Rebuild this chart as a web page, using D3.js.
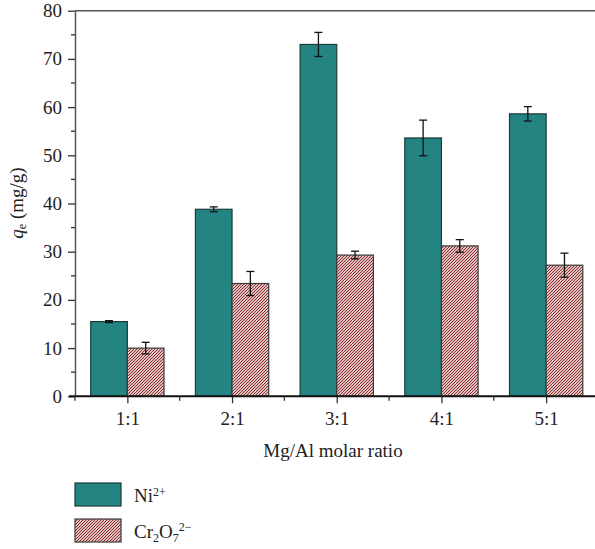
<!DOCTYPE html>
<html><head><meta charset="utf-8">
<script src="https://cdn.jsdelivr.net/npm/d3@7"></script>
<style>body{margin:0;background:#fff}svg{display:block}svg text{font-family:"Liberation Serif","Times New Roman","DejaVu Serif",serif !important;fill:#222}</style>
</head><body><svg id="c" width="595" height="549"></svg>
<script>
const categories = ["1:1","2:1","3:1","4:1","5:1"];
const niValues = [15.5, 38.8, 73.0, 53.6, 58.6];
const niErrors = [0.2, 0.5, 2.5, 3.7, 1.5];
const crValues = [10.0, 23.4, 29.3, 31.2, 27.2];
const crErrors = [1.2, 2.5, 0.8, 1.3, 2.5];
const yTicks = [0,10,20,30,40,50,60,70,80];

const svg = d3.select("#c");
const defs = svg.append("defs");
const P = 3;
const pat = defs.append("pattern").attr("id","hatch").attr("patternUnits","userSpaceOnUse")
  .attr("width",P).attr("height",P);
pat.append("rect").attr("width",P).attr("height",P).attr("fill","#fff");
pat.append("path").attr("d",`M0,${P} L${P},0 M${-P/2},${P/2} L${P/2},${-P/2} M${P/2},${1.5*P} L${1.5*P},${P/2}`)
  .attr("stroke","#8b2424").attr("stroke-width",1.1);

const x = d3.scaleLinear().domain([0.5,5.5]).range([75,598.5]);
const y = d3.scaleLinear().domain([0,80]).range([396.3,10.7]);
const bw = 0.35;
const FS = 19;

svg.append("line").attr("x1",75).attr("x2",595).attr("y1",y(80)).attr("y2",y(80)).attr("stroke","#555").attr("stroke-width",1.5);

const series = [
  {vals:niValues, errs:niErrors, off:-bw, fill:"#238481", stroke:"#1c3b39"},
  {vals:crValues, errs:crErrors, off:0, fill:"url(#hatch)", stroke:"#3a3a3a"}
];
series.forEach(s=>{
  svg.append("g").selectAll("rect").data(s.vals).join("rect")
    .attr("x",(d,i)=>x(i+1+s.off)).attr("width",x(bw)-x(0))
    .attr("y",d=>y(d)).attr("height",d=>y(0)-y(d))
    .attr("fill",s.fill).attr("stroke",s.stroke).attr("stroke-width",1.2);
  const g = svg.append("g").attr("stroke","#111").attr("stroke-width",1.3);
  s.vals.forEach((d,i)=>{
    const cx = x(i+1+s.off+bw/2), e=s.errs[i];
    g.append("line").attr("x1",cx).attr("x2",cx).attr("y1",y(d+e)).attr("y2",y(d-e));
    g.append("line").attr("x1",cx-4).attr("x2",cx+4).attr("y1",y(d+e)).attr("y2",y(d+e));
    g.append("line").attr("x1",cx-4).attr("x2",cx+4).attr("y1",y(d-e)).attr("y2",y(d-e));
  });
});

const ya = svg.append("g").attr("transform","translate(75,0)")
  .call(d3.axisLeft(y).tickValues(yTicks).tickSize(7).tickPadding(6).tickSizeOuter(0));
ya.select(".domain").attr("stroke","#555").attr("stroke-width",1.5);
ya.selectAll(".tick line").attr("stroke","#333").attr("stroke-width",1.3);
ya.selectAll("text").attr("font-size",FS).attr("fill","#222");
const minorY = d3.range(5,80,10);
svg.append("g").selectAll("line").data(minorY).join("line")
  .attr("x1",71).attr("x2",75).attr("y1",d=>y(d)).attr("y2",d=>y(d)).attr("stroke","#333").attr("stroke-width",1.3);

const xa = svg.append("g").attr("transform",`translate(0,${y(0)})`)
  .call(d3.axisBottom(x).tickValues([1,2,3,4,5]).tickFormat((d,i)=>categories[i]).tickSize(7).tickPadding(8).tickSizeOuter(0));
xa.select(".domain").remove();
xa.selectAll(".tick line").attr("stroke","#333").attr("stroke-width",1.3);
xa.selectAll("text").attr("font-size",FS).attr("fill","#222");
svg.append("line").attr("x1",69).attr("x2",595).attr("y1",y(0)).attr("y2",y(0)).attr("stroke","#111").attr("stroke-width",2);
svg.append("g").selectAll("line").data(d3.range(0.5,5.6,1)).join("line")
  .attr("x1",d=>x(d)).attr("x2",d=>x(d)).attr("y1",y(0)).attr("y2",y(0)+4.5).attr("stroke","#333").attr("stroke-width",1.3);

svg.append("text").attr("x",333).attr("y",457).attr("text-anchor","middle").attr("font-size",FS).text("Mg/Al molar ratio");
const yl = svg.append("text").attr("transform","translate(23,203) rotate(-90)").attr("text-anchor","middle").attr("font-size",FS);
yl.append("tspan").attr("font-style","italic").text("q");
yl.append("tspan").attr("font-size",12).attr("dy",3).text("e");
yl.append("tspan").attr("dy",-3).text(" (mg/g)");

svg.append("rect").attr("x",75).attr("y",483).attr("width",46).attr("height",23).attr("fill","#238481").attr("stroke","#1c3b39").attr("stroke-width",1.2);
svg.append("rect").attr("x",75).attr("y",519).attr("width",46).attr("height",23).attr("fill","url(#hatch)").attr("stroke","#3a3a3a").attr("stroke-width",1.2);
const t1 = svg.append("text").attr("x",134).attr("y",502).attr("font-size",FS);
t1.append("tspan").text("Ni");
t1.append("tspan").attr("font-size",12).attr("dy",-6).text("2+");
const t2 = svg.append("text").attr("x",134).attr("y",538).attr("font-size",FS);
t2.append("tspan").text("Cr");
t2.append("tspan").attr("font-size",12).attr("dy",4).text("2");
t2.append("tspan").attr("dy",-4).text("O");
t2.append("tspan").attr("font-size",12).attr("dy",4).text("7");
t2.append("tspan").attr("font-size",12).attr("dy",-11).text("2−");
</script></body></html>
